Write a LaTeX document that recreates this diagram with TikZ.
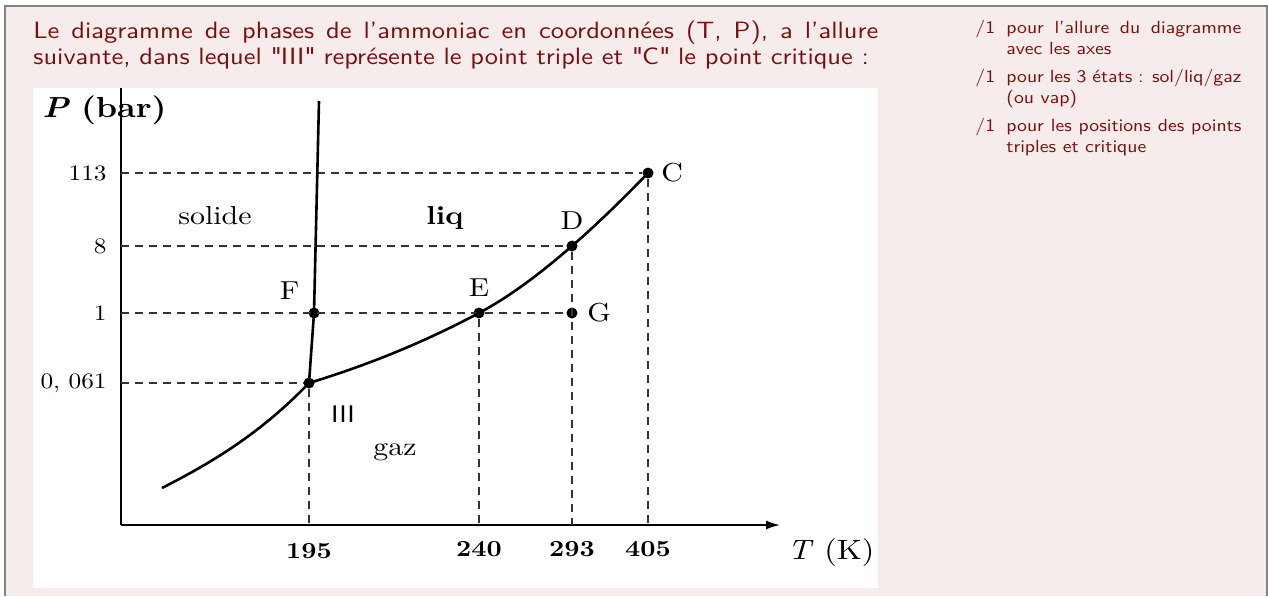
\documentclass[tikz,border=0pt]{standalone}
\usepackage{fontspec}
\setmainfont{lmroman10-regular.otf}[FakeStretch=1.15, BoldFont=lmroman10-bold.otf, ItalicFont=lmroman10-italic.otf, BoldItalicFont=lmroman10-bolditalic.otf]
\setsansfont{lmsans10-regular.otf}[FakeStretch=1.12, BoldFont=lmsans10-bold.otf]
\usepackage{tikz}
\usetikzlibrary{arrows.meta,positioning}
\definecolor{slidebg}{RGB}{247,236,236}
\definecolor{slidetxt}{RGB}{120,16,16}
\definecolor{framegray}{RGB}{130,130,130}

\begin{document}
\begin{tikzpicture}[
    x=0.5pt, y=0.5pt,
    axis/.style={line width=0.8pt, black},
    curve/.style={line width=1.3pt, black},
    dashline/.style={line width=0.6pt, black!80, dash pattern=on 4pt off 3pt},
    dot/.style={circle, fill=black, inner sep=0pt, minimum size=5.5pt},
    tick/.style={inner sep=0pt, font=\fontsize{11}{13}\selectfont},
    tempval/.style={inner sep=0pt, font=\fontsize{11.5}{13}\selectfont\bfseries},
    ptlabel/.style={inner sep=0pt, font=\fontsize{13}{15}\selectfont},
    phase/.style={inner sep=0pt, font=\fontsize{13}{15}\selectfont},
    heading/.style={inner sep=0pt, anchor=base west, align=justify, text=slidetxt, font=\sffamily\fontsize{11.8}{13}\selectfont},
    note/.style={inner sep=0pt, anchor=base west, align=justify, text width=117.5pt, text=slidetxt, font=\sffamily\fontsize{8.8}{10.5}\selectfont},
    notemark/.style={inner sep=0pt, anchor=base west, text=slidetxt, font=\sffamily\fontsize{8.8}{10.5}\selectfont}
]

    % Background and frame
    \fill[white] (0,0) rectangle (1268,596);
    \fill[slidebg] (5,0) rectangle (1267,590);
    \draw[framegray, line width=0.7pt] (5,0) -- (5,590) -- (1267,590) -- (1267,0);
    \fill[white] (33,8) rectangle (878,508);
    \useasboundingbox (0,0) rectangle (1268,596);

    % Text
    \node[heading, text width=422.5pt] (intro) at (33,558) {Le diagramme de phases de l’ammoniac en coordonnées (T, P), a l’allure\linebreak suivante, dans lequel \textquotedbl III\textquotedbl{} représente le point triple et \textquotedbl C\textquotedbl{} le point critique :};

    \node[notemark] (m1) at (975,563) {/1};
    \node[note] (n1) at (1006,563) {pour l’allure du diagramme\linebreak avec les axes};
    \node[notemark] (m2) at (975,514) {/1};
    \node[note] (n2) at (1006,514) {pour les 3 états : sol/liq/gaz\linebreak (ou vap)};
    \node[notemark] (m3) at (975,465) {/1};
    \node[note] (n3) at (1006,465) {pour les positions des points\linebreak triples et critique};

    % Axes
    \coordinate (O) at (121,71);
    \coordinate (ytop) at (121,508);
    \coordinate (xend) at (780,71);
    \draw[axis] (ytop) -- (O);
    \draw[axis, -{Latex[length=7pt, width=4.5pt]}] (O) -- (xend);

    % Points
    \node[dot] (tp) at (309,213) {};
    \node[dot] (F) at (314,283) {};
    \node[dot] (E) at (479,283) {};
    \node[dot] (G) at (572,283) {};
    \node[dot] (D) at (572,350) {};
    \node[dot] (C) at (648,423) {};
    \coordinate (sub) at (162,108);
    \coordinate (ftop) at (319,495);

    \coordinate (y113) at (C -| O);
    \coordinate (y8) at (D -| O);
    \coordinate (y1) at (G -| O);
    \coordinate (y0) at (tp -| O);
    \coordinate (t195) at (tp |- O);
    \coordinate (t240) at (E |- O);
    \coordinate (t293) at (D |- O);
    \coordinate (t405) at (C |- O);

    % Dashed guides
    \draw[dashline] (y113) -- (C);
    \draw[dashline] (y8) -- (D);
    \draw[dashline] (y1) -- (G);
    \draw[dashline] (y0) -- (tp);
    \draw[dashline] (tp) -- (t195);
    \draw[dashline] (E) -- (t240);
    \draw[dashline] (D) -- (t293);
    \draw[dashline] (C) -- (t405);

    % Phase boundaries
    \draw[curve] (sub) .. controls (211,133) and (260,162) .. (tp.center);
    \draw[curve] (tp.center) -- (F.center) -- (ftop);
    \draw[curve] (tp.center) .. controls (365.7,230.3) and (422.3,252.8) .. (E.center)
        .. controls (510,299.5) and (541,323.1) .. (D.center)
        .. controls (597.3,372) and (622.7,396.8) .. (C.center);

    % Axis labels
    \node[anchor=west, inner sep=0pt, font=\fontsize{14.5}{16}\selectfont] (plabel) at (42,486) {\textbf{\textit{P}} \textbf{(bar)}};
    \node[inner sep=0pt, font=\fontsize{14}{16}\selectfont] (tlabel) at (831,44) {\textit{T} (K)};

    \node[tick, left=7pt of y113] {113};
    \node[tick, left=7pt of y8] {8};
    \node[tick, left=7pt of y1] {1};
    \node[tick, left=7pt of y0] {0, 061};

    \node[tempval, below=9pt of t195] {195};
    \node[tempval, below=8pt of t240] {240};
    \node[tempval, below=8pt of t293] {293};
    \node[tempval, below=8pt of t405] {405};

    % Point and phase labels
    \node[ptlabel, right=3.5pt of C] {C};
    \node[ptlabel, above=5pt of D] {D};
    \node[ptlabel, above=5pt of E] {E};
    \node[ptlabel, above left=4.5pt and 5pt of F] {F};
    \node[ptlabel, right=4.5pt of G] {G};
    \node[inner sep=0pt, font=\sffamily\fontsize{12}{14}\selectfont] (triple) at (343,182) {III};

    \node[phase] (solide) at (215,380) {solide};
    \node[phase, font=\fontsize{13}{15}\selectfont\bfseries] (liq) at (445,378) {liq};
    \node[phase] (gaz) at (395,144) {gaz};

\end{tikzpicture}
\end{document}
